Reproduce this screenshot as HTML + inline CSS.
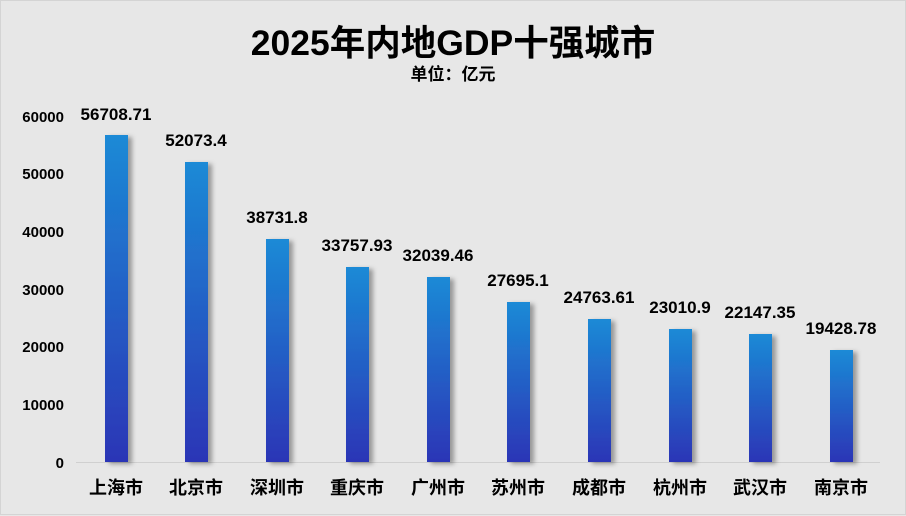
<!DOCTYPE html>
<html><head><meta charset="utf-8"><style>
html,body{margin:0;padding:0;background:#e7e7e7;}
svg{display:block;font-family:"Liberation Sans","Noto Sans CJK SC",sans-serif;}
</style></head><body>
<svg width="906" height="516" viewBox="0 0 906 516">
<defs>
<linearGradient id="g" x1="0" y1="0" x2="0" y2="1">
<stop offset="0" stop-color="#1b8ad6"/><stop offset="1" stop-color="#2c35b6"/>
</linearGradient>
<filter id="s" x="-50%" y="-10%" width="200%" height="120%"><feDropShadow dx="4" dy="2" stdDeviation="2.5" flood-color="#000" flood-opacity="0.35"/></filter>
</defs>
<rect width="906" height="516" fill="#e7e7e7"/>
<rect x="0.5" y="0.5" width="905" height="514" fill="none" stroke="#d4d4d4"/>
<text x="453" y="55" text-anchor="middle" font-size="35.5" font-weight="bold" fill="#000">2025年内地GDP十强城市</text>
<text x="453" y="80" text-anchor="middle" font-size="17" font-weight="bold" fill="#000">单位：亿元</text>
<g font-size="15" font-weight="bold" fill="#000" text-anchor="end">
<text x="64" y="468">0</text>
<text x="64" y="410">10000</text>
<text x="64" y="352">20000</text>
<text x="64" y="295">30000</text>
<text x="64" y="237">40000</text>
<text x="64" y="179">50000</text>
<text x="64" y="122">60000</text>
</g>
<line x1="76" y1="462.5" x2="880" y2="462.5" stroke="#d0d0d0" stroke-width="1"/>
<g fill="url(#g)" filter="url(#s)">
<rect x="105" y="135" width="23" height="327"/>
<rect x="185" y="162" width="23" height="300"/>
<rect x="266" y="239" width="23" height="223"/>
<rect x="346" y="267" width="23" height="195"/>
<rect x="427" y="277" width="23" height="185"/>
<rect x="507" y="302" width="23" height="160"/>
<rect x="588" y="319" width="23" height="143"/>
<rect x="669" y="329" width="23" height="133"/>
<rect x="749" y="334" width="23" height="128"/>
<rect x="830" y="350" width="23" height="112"/>
</g>
<g font-size="17" font-weight="bold" fill="#000" text-anchor="middle">
<text x="116" y="120">56708.71</text>
<text x="196" y="146">52073.4</text>
<text x="277" y="223">38731.8</text>
<text x="357" y="251">33757.93</text>
<text x="438" y="261">32039.46</text>
<text x="518" y="286">27695.1</text>
<text x="599" y="303">24763.61</text>
<text x="680" y="313">23010.9</text>
<text x="760" y="318">22147.35</text>
<text x="841" y="334">19428.78</text>
</g>
<g font-size="18" font-weight="bold" fill="#000" text-anchor="middle">
<text x="116" y="494">上海市</text>
<text x="196" y="494">北京市</text>
<text x="277" y="494">深圳市</text>
<text x="357" y="494">重庆市</text>
<text x="438" y="494">广州市</text>
<text x="518" y="494">苏州市</text>
<text x="599" y="494">成都市</text>
<text x="680" y="494">杭州市</text>
<text x="760" y="494">武汉市</text>
<text x="841" y="494">南京市</text>
</g>
</svg>
</body></html>
